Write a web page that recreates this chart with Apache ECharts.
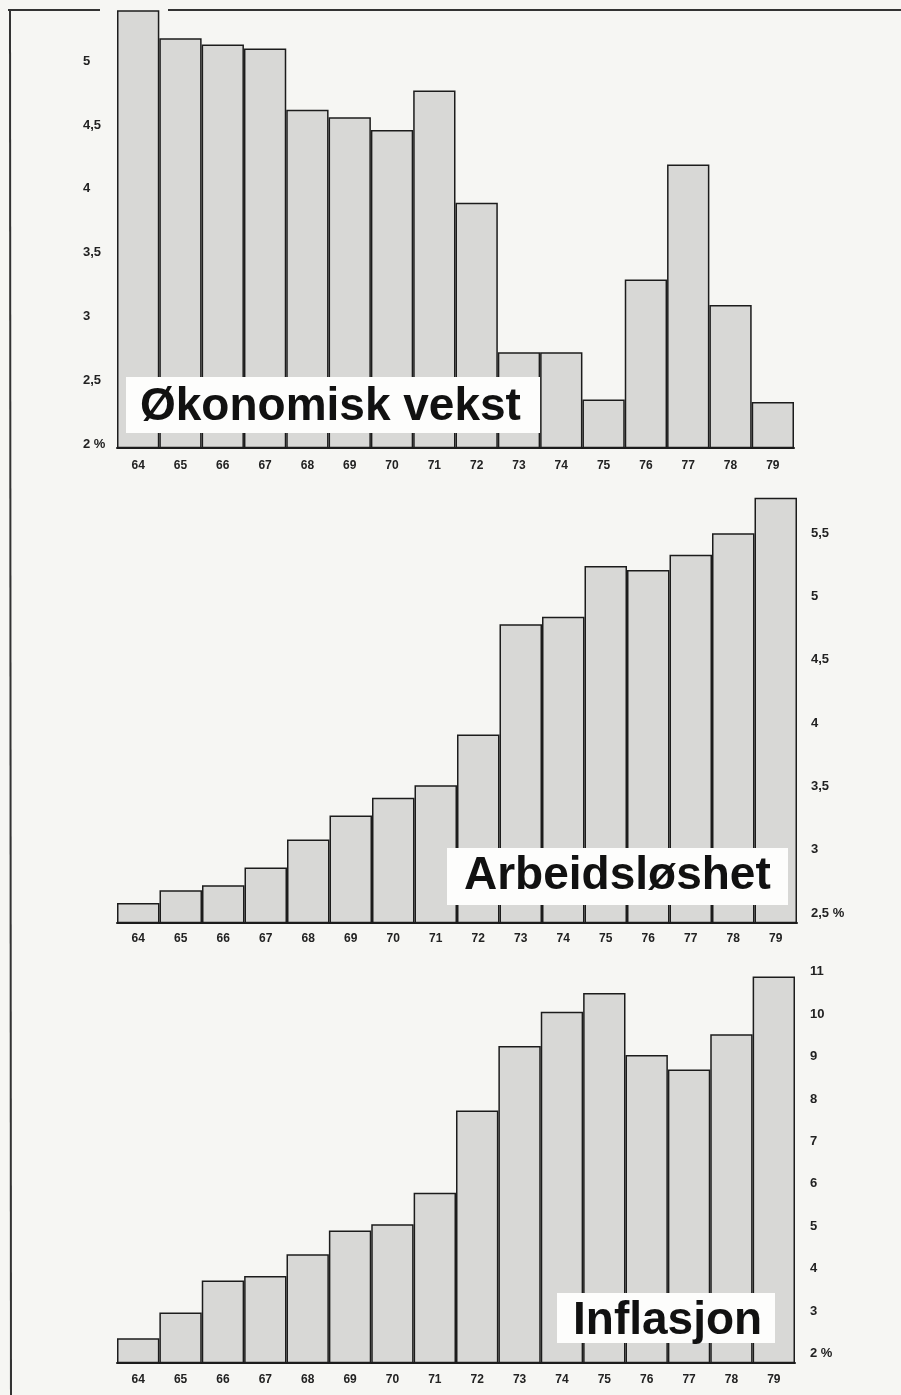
<!DOCTYPE html>
<html>
<head>
<meta charset="utf-8">
<title>Økonomisk vekst, arbeidsløshet, inflasjon</title>
<script src="https://cdn.jsdelivr.net/npm/echarts@6.0.0/dist/echarts.min.js"></script>
<style>
  html, body { margin: 0; padding: 0; background: #f6f6f3; }
  #main { width: 901px; height: 1395px; }
</style>
</head>
<body>
<div id="main"></div>
<script>
// years on every x axis
const years = ['64', '65', '66', '67', '68', '69', '70', '71', '72', '73', '74', '75', '76', '77', '78', '79'];

// values (%)
const growth = [5.40, 5.18, 5.13, 5.10, 4.62, 4.56, 4.46, 4.77, 3.89, 2.72, 2.72, 2.35, 3.29, 4.19, 3.09, 2.33];
const unemployment = [2.58, 2.68, 2.72, 2.86, 3.08, 3.27, 3.41, 3.51, 3.91, 4.78, 4.84, 5.24, 5.21, 5.33, 5.50, 5.78];
const inflation = [2.36, 2.97, 3.72, 3.83, 4.34, 4.90, 5.05, 5.79, 7.73, 9.25, 10.06, 10.50, 9.04, 8.70, 9.53, 10.89];

// tick labels
const growthTicks = [2, 2.5, 3, 3.5, 4, 4.5, 5];
const growthTickLabels = ['2 %', '2,5', '3', '3,5', '4', '4,5', '5'];
const unempTicks = [2.5, 3, 3.5, 4, 4.5, 5, 5.5];
const unempTickLabels = ['2,5 %', '3', '3,5', '4', '4,5', '5', '5,5'];
const inflTicks = [2, 3, 4, 5, 6, 7, 8, 9, 10, 11];
const inflTickLabels = ['2 %', '3', '4', '5', '6', '7', '8', '9', '10', '11'];

const chart = echarts.init(document.getElementById('main'));
const ink = '#1c1c1c';
const fill = '#d8d8d6';
const fontFamily = '"Liberation Sans", Arial, sans-serif';

function xAxis(grid, margin) {
  return {
    type: 'category',
    gridIndex: grid,
    data: years,
    axisLine: { show: true, lineStyle: { color: ink, width: 2 } },
    axisTick: { show: false },
    axisLabel: { interval: 0, margin: margin, color: '#222', fontSize: 12, fontWeight: 'bold', fontFamily: fontFamily }
  };
}

function yAxis(grid, pos, min, max, ticks, labels, margin) {
  return {
    type: 'value',
    gridIndex: grid,
    position: pos,
    min: min,
    max: max,
    splitLine: { show: false },
    axisLine: { show: false },
    axisTick: { show: false },
    axisLabel: {
      customValues: ticks,
      formatter: function (v) { return labels[ticks.indexOf(v)]; },
      align: 'left',
      margin: margin,
      color: '#222',
      fontSize: 13,
      fontWeight: 'bold',
      fontFamily: fontFamily
    }
  };
}

function bars(i, data) {
  return {
    type: 'bar',
    xAxisIndex: i,
    yAxisIndex: i,
    data: data,
    barCategoryGap: 0,
    itemStyle: { color: fill, borderColor: ink, borderWidth: 1.5 },
    silent: true,
    animation: false
  };
}

function titleBox(x, y, w, h, text, tx, ty) {
  return [
    { type: 'rect', z: 100, shape: { x: x, y: y, width: w, height: h }, style: { fill: '#fdfdfc' } },
    {
      type: 'text', z: 101, x: tx, y: ty,
      style: { text: text, fill: '#111', font: 'bold 46px ' + fontFamily, textVerticalAlign: 'middle' }
    }
  ];
}

let options = {
  backgroundColor: '#f6f6f3',
  animation: false,
  grid: [
    { left: 117, right: 107, top: 10, height: 437.5 },
    { left: 117, right: 104, top: 480, height: 442.5 },
    { left: 117, right: 106, top: 960, height: 402.5 }
  ],
  xAxis: [xAxis(0, 12), xAxis(1, 10), xAxis(2, 11)],
  yAxis: [
    yAxis(0, 'left', 1.973, 5.401, growthTicks, growthTickLabels, 34),
    yAxis(1, 'right', 2.425, 5.92, unempTicks, unempTickLabels, 14),
    yAxis(2, 'right', 1.788, 11.281, inflTicks, inflTickLabels, 15)
  ],
  series: [bars(0, growth), bars(1, unemployment), bars(2, inflation)],
  graphic: [
    // frame
    { type: 'line', z: 50, shape: { x1: 8, y1: 10, x2: 100, y2: 10 }, style: { stroke: '#333', lineWidth: 2 } },
    { type: 'line', z: 50, shape: { x1: 168, y1: 10, x2: 901, y2: 10 }, style: { stroke: '#333', lineWidth: 2 } },
    { type: 'line', z: 50, shape: { x1: 10, y1: 9, x2: 11, y2: 1395 }, style: { stroke: '#333', lineWidth: 2 } }
  ]
    .concat(titleBox(126, 377, 414, 56, 'Økonomisk vekst', 140, 407))
    .concat(titleBox(447, 848, 341, 57, 'Arbeidsløshet', 464, 876))
    .concat(titleBox(557, 1293, 218, 50, 'Inflasjon', 573, 1321))
};

chart.setOption(options);
</script>
</body>
</html>
